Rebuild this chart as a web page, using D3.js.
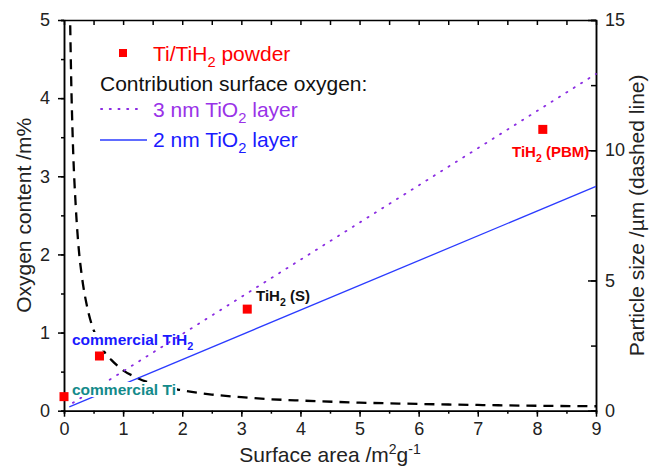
<!DOCTYPE html>
<html>
<head>
<meta charset="utf-8">
<script src="https://cdn.jsdelivr.net/npm/d3@7"></script>
<style>
  body { margin: 0; background: #fff; }
  svg { font-family: "Liberation Sans", Arial, sans-serif; }
</style>
</head>
<body>
<div id="chart"></div>
<script>
// MEASURED POWDERS (surface area m2/g, oxygen m%)
const powderNames = ["commercial Ti", "commercial TiH2", "TiH2 (S)", "TiH2 (PBM)"];
const powderArea = [0, 0.6, 3.1, 8.1];
const powderOxygen = [0.18, 0.7, 1.3, 3.6];

// SURFACE OXYGEN LINES (end points)
const layer3Area = [0.15, 9];
const layer3Oxygen = [0.1, 4.31];
const layer2Area = [0.09, 9];
const layer2Oxygen = [0.05, 2.87];

// PARTICLE SIZE CURVE (right axis, um)
const sizeArea = [0.105, 0.12, 0.15, 0.2, 0.25, 0.3, 0.4, 0.5, 0.6, 0.7, 0.8, 1.0, 1.2, 1.5, 2, 2.5, 3, 3.5, 4, 5, 6, 7, 8, 9];
const sizeUm = [14.8, 12.9, 10.3, 7.8, 6.2, 5.2, 3.9, 3.1, 2.6, 2.2, 1.95, 1.55, 1.3, 1.03, 0.78, 0.62, 0.52, 0.44, 0.39, 0.31, 0.26, 0.22, 0.19, 0.17];

// TICKS
const xTicks = [0, 1, 2, 3, 4, 5, 6, 7, 8, 9];
const yTicks = [0, 1, 2, 3, 4, 5];
const y2Ticks = [0, 5, 10, 15];

// SET WIDTH, HEIGHT & PLOT EDGES
const width = 649;
const height = 470;
const plotLeft = 64, plotRight = 596, plotTop = 20, plotBottom = 410.7;

const x = d3.scaleLinear().domain([0, 9]).range([plotLeft, plotRight]);
const y = d3.scaleLinear().domain([0, 5]).range([plotBottom, plotTop]);
const y2 = d3.scaleLinear().domain([0, 15]).range([plotBottom, plotTop]);

const svg = d3.select("#chart")
    .append("svg")
    .attr("width", width)
    .attr("height", height);

// MINOR TICKS (half steps)
const xMinor = d3.range(0, 9.01, 0.5);
const yMinor = d3.range(0, 5.01, 0.5);
const y2Minor = d3.range(0, 15.01, 2.5);

function styleAxis(g) {
    g.select(".domain").attr("stroke", "#000").attr("stroke-width", 1.5);
    g.selectAll(".tick line").attr("stroke", "#000").attr("stroke-width", 1.5);
    g.selectAll(".tick text").attr("font-size", 18).attr("fill", "#222")
        .attr("font-family", "Liberation Sans, Arial, sans-serif");
}

// BOTTOM AXIS
svg.append("g")
    .attr("transform", "translate(0," + plotBottom + ")")
    .call(d3.axisBottom(x).tickValues(xMinor).tickSize(3).tickFormat(""))
    .call(styleAxis);
svg.append("g")
    .attr("transform", "translate(0," + plotBottom + ")")
    .call(d3.axisBottom(x).tickValues(xTicks).tickSize(6).tickPadding(6).tickSizeOuter(0).tickFormat(d3.format("d")))
    .call(styleAxis);

// TOP AXIS (ticks inward)
svg.append("g")
    .attr("transform", "translate(0," + plotTop + ")")
    .call(d3.axisTop(x).tickValues(xMinor).tickSize(-5).tickSizeOuter(0).tickFormat(""))
    .call(styleAxis);

// LEFT AXIS
svg.append("g")
    .attr("transform", "translate(" + plotLeft + ",0)")
    .call(d3.axisLeft(y).tickValues(yMinor).tickSize(3).tickFormat(""))
    .call(styleAxis);
svg.append("g")
    .attr("transform", "translate(" + plotLeft + ",0)")
    .call(d3.axisLeft(y).tickValues(yTicks).tickSize(6).tickPadding(8).tickSizeOuter(0).tickFormat(d3.format("d")))
    .call(styleAxis);

// RIGHT AXIS (ticks inward)
svg.append("g")
    .attr("transform", "translate(" + plotRight + ",0)")
    .call(d3.axisRight(y2).tickValues(y2Minor).tickSize(-5).tickFormat(""))
    .call(styleAxis);
svg.append("g")
    .attr("transform", "translate(" + plotRight + ",0)")
    .call(d3.axisRight(y2).tickValues(y2Ticks).tickSize(-8).tickPadding(9).tickSizeOuter(0).tickFormat(d3.format("d")))
    .call(styleAxis);

// AXIS TITLES
const xTitle = svg.append("text")
    .attr("x", (plotLeft + plotRight) / 2).attr("y", 462)
    .attr("text-anchor", "middle").attr("font-size", 21).attr("fill", "#222");
xTitle.append("tspan").text("Surface area /m");
xTitle.append("tspan").attr("dy", -8).attr("font-size", 14).text("2");
xTitle.append("tspan").attr("dy", 8).text("g");
xTitle.append("tspan").attr("dy", -8).attr("font-size", 14).text("-1");

svg.append("text")
    .attr("transform", "translate(31," + (plotTop + plotBottom) / 2 + ") rotate(-90)")
    .attr("text-anchor", "middle").attr("font-size", 21).attr("fill", "#222")
    .text("Oxygen content /m%");

svg.append("text")
    .attr("transform", "translate(644," + (plotTop + plotBottom) / 2 + ") rotate(-90)")
    .attr("text-anchor", "middle").attr("font-size", 21).attr("fill", "#222")
    .text("Particle size /\u00b5m (dashed line)");

// HELPER FOR TEXT WITH SUBSCRIPT 2
function subText(sel, before, after, size) {
    sel.append("tspan").text(before);
    sel.append("tspan").attr("dy", size * 0.3).attr("font-size", size * 0.7).text("2");
    sel.append("tspan").attr("dy", -size * 0.3).text(after);
}

function labelBox(tx) {
    const bb = tx.node().getBBox();
    svg.insert("rect", function () { return tx.node(); })
        .attr("x", bb.x - 1).attr("y", bb.y + 1)
        .attr("width", bb.width + 2).attr("height", bb.height - 2)
        .attr("fill", "#fff");
}

// PARTICLE SIZE DASHED CURVE
const sizeLine = d3.line()
    .x(function (d, i) { return x(sizeArea[i]); })
    .y(function (d) { return y2(d); })
    .curve(d3.curveMonotoneX);
svg.append("path")
    .attr("d", sizeLine(sizeUm))
    .attr("fill", "none").attr("stroke", "#000")
    .attr("stroke-width", 2.3).attr("stroke-dasharray", "10,7");

// 2 NM LINE
const oxLine = function (xs, ys) {
    return d3.line().x(function (d, i) { return x(xs[i]); }).y(function (d) { return y(d); })(ys);
};
svg.append("path")
    .attr("d", oxLine(layer2Area, layer2Oxygen))
    .attr("fill", "none").attr("stroke", "#2b3bff").attr("stroke-width", 1.3);

// LABEL COMMERCIAL TiH2
const lblTiH2 = svg.append("text")
    .attr("x", 72).attr("y", 345)
    .attr("font-size", 15.5).attr("font-weight", "bold").attr("fill", "#1a1aff");
subText(lblTiH2, "commercial TiH", "", 15.5);
labelBox(lblTiH2);

// 3 NM DOTTED LINE
svg.append("path")
    .attr("d", oxLine(layer3Area, layer3Oxygen))
    .attr("fill", "none").attr("stroke", "#8a2be2").attr("stroke-width", 1.8)
    .attr("stroke-dasharray", "1.2,7.5").attr("stroke-linecap", "round");

// LABEL COMMERCIAL Ti
const lblTi = svg.append("text")
    .attr("x", 72).attr("y", 395)
    .attr("font-size", 15.5).attr("font-weight", "bold").attr("fill", "#138a8a")
    .text(powderNames[0]);
labelBox(lblTi);

// OTHER LABELS
const lblS = svg.append("text")
    .attr("x", 256).attr("y", 301)
    .attr("font-size", 15).attr("font-weight", "bold").attr("fill", "#111");
subText(lblS, "TiH", " (S)", 15);

const lblP = svg.append("text")
    .attr("x", 512).attr("y", 157)
    .attr("font-size", 15).attr("font-weight", "bold").attr("fill", "#ff0000");
subText(lblP, "TiH", " (PBM)", 15);

// POWDER POINTS
svg.selectAll(".pt")
    .data(powderArea)
    .enter().append("rect")
    .attr("class", "pt")
    .attr("x", function (d) { return x(d) - 4.5; })
    .attr("y", function (d, i) { return y(powderOxygen[i]) - 4.5; })
    .attr("width", 9).attr("height", 9)
    .attr("fill", "#ff0000");

// LEGEND
svg.append("rect").attr("x", 119).attr("y", 49).attr("width", 8).attr("height", 8).attr("fill", "#ff0000");
const lg1 = svg.append("text").attr("x", 153).attr("y", 61).attr("font-size", 21).attr("fill", "#ff0000");
subText(lg1, "Ti/TiH", " powder", 21);

svg.append("text").attr("x", 100).attr("y", 91).attr("font-size", 21).attr("fill", "#111")
    .text("Contribution surface oxygen:");

svg.append("line").attr("x1", 101).attr("x2", 137).attr("y1", 109).attr("y2", 109)
    .attr("stroke", "#8a2be2").attr("stroke-width", 1.8)
    .attr("stroke-dasharray", "1.2,7.5").attr("stroke-linecap", "round");
const lg3 = svg.append("text").attr("x", 153).attr("y", 117).attr("font-size", 21).attr("fill", "#9932e8");
subText(lg3, "3 nm TiO", " layer", 21);

svg.append("line").attr("x1", 100).attr("x2", 147).attr("y1", 140).attr("y2", 140)
    .attr("stroke", "#2b3bff").attr("stroke-width", 1.3);
const lg2 = svg.append("text").attr("x", 153).attr("y", 147).attr("font-size", 21).attr("fill", "#1a1aff");
subText(lg2, "2 nm TiO", " layer", 21);
</script>
</body>
</html>
